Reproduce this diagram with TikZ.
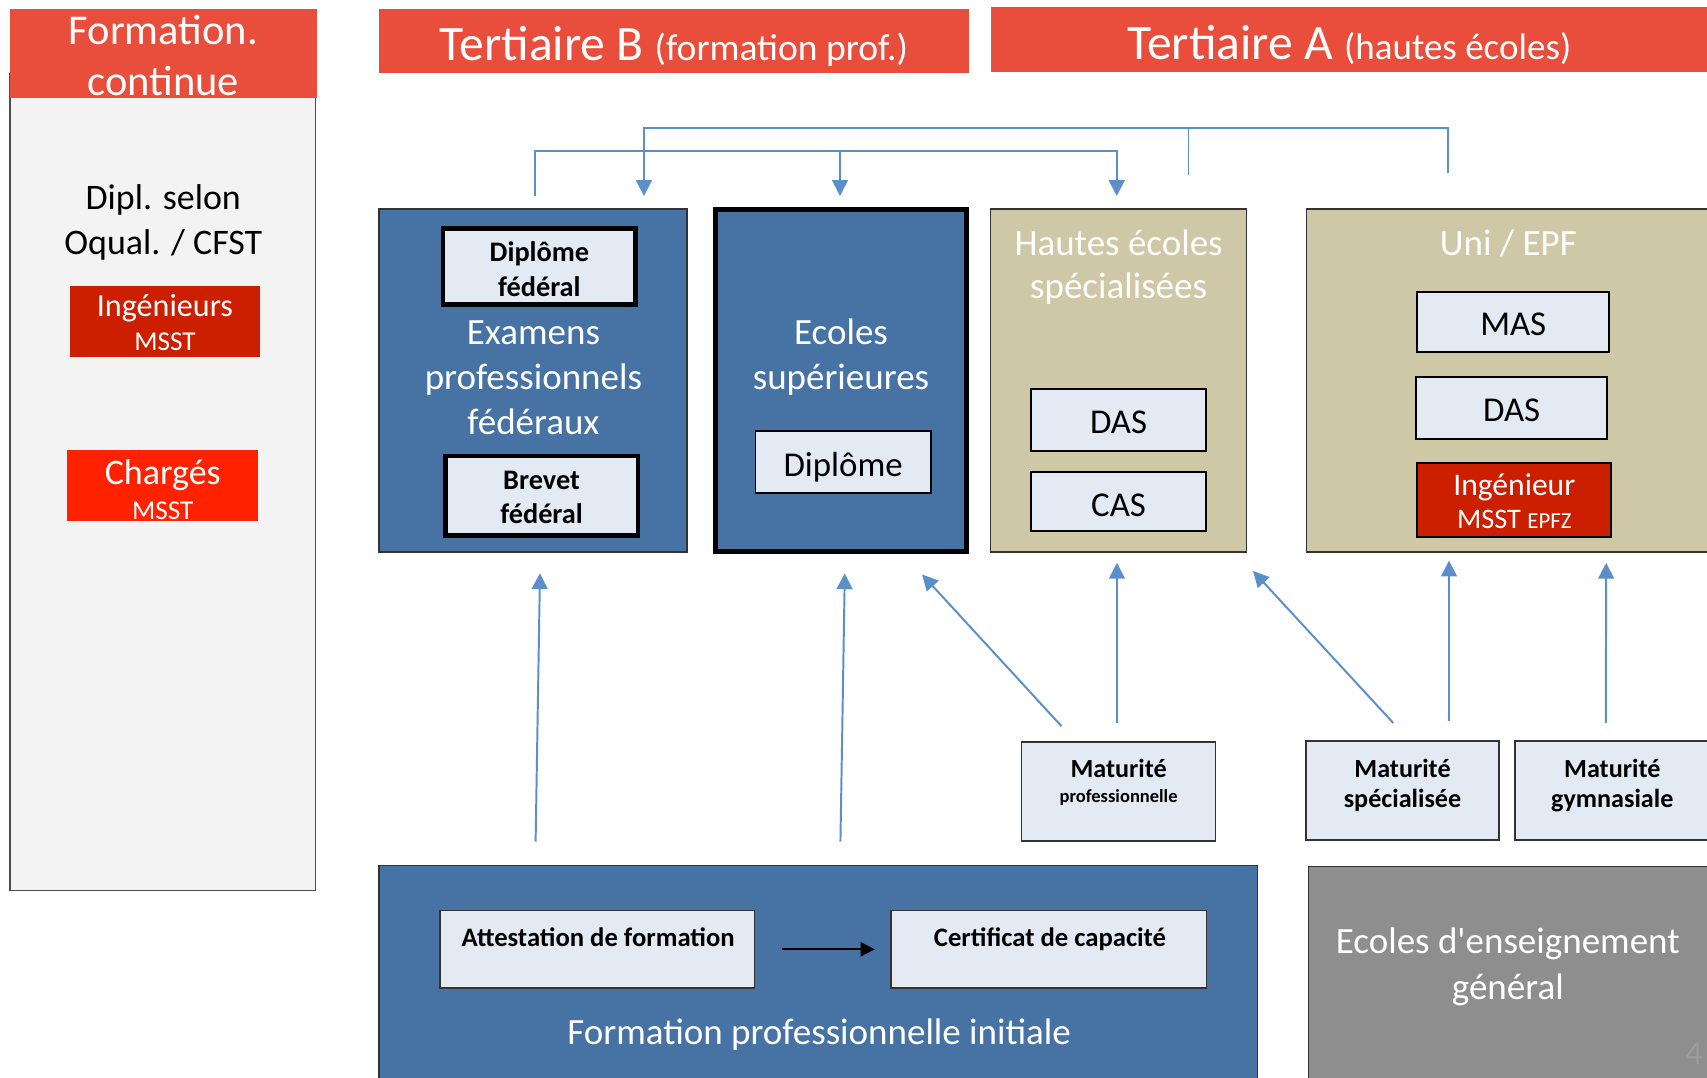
\documentclass[tikz,border=0pt]{standalone}
\usepackage{fontspec}
\setmainfont{Carlito}
\usetikzlibrary{arrows.meta,calc}
\definecolor{hdrred}{HTML}{E94D3B}
\definecolor{boxblue}{HTML}{4673A4}
\definecolor{tanbox}{HTML}{CFC8A6}
\definecolor{lightbox}{HTML}{E3EAF4}
\definecolor{greybox}{HTML}{8E8E8E}
\definecolor{darkred}{HTML}{CC1F00}
\definecolor{brightred}{HTML}{FF2200}
\definecolor{panelgrey}{HTML}{F3F3F3}
\definecolor{arrowblue}{HTML}{5B8FC9}
\definecolor{edgegrey}{HTML}{333333}
\definecolor{pagenum}{HTML}{9C9C9C}
\newcommand{\fsz}[1]{\fontsize{#1}{#1}\selectfont}
\newcommand{\rbox}[6]{\node[#2, anchor=north west, minimum width={#5-#3}, minimum height={#6-#4}] (#1) at (#3,#4) {};}
\begin{document}
\begin{tikzpicture}[x=1pt,y=-1pt,
  plainbox/.style={inner sep=0pt, outer sep=0pt},
  frame/.style={plainbox, draw=edgegrey, line width=1.3pt},
  darkframe/.style={plainbox, draw=black, line width=1.8pt},
  thickframe/.style={plainbox, draw=black, line width=4.4pt},
  hdrbox/.style={plainbox, fill=hdrred},
  txt/.style={inner sep=0pt, outer sep=0pt, anchor=base},
  wtxt/.style={txt, text=white},
  blueline/.style={draw=arrowblue, line width=1.8pt},
  bluearrow/.style={blueline, -{Triangle[length=14.5pt,width=14.5pt]}},
]
\useasboundingbox (0,0) rectangle (1568,990);
\clip (0,0) rectangle (1568,990);
\fill[white] (0,0) rectangle (1568,990);

% ---------- left panel : formation continue ----------
\rbox{panel}{frame, draw=black!70, fill=panelgrey}{9}{68}{290}{818}
\rbox{fchdr}{hdrbox}{9.5}{8}{291}{90}
\node[wtxt, font=\fsz{39}] (fc1) at (150,41) {Formation.};
\node[wtxt, font=\fsz{39}] (fc2) at (150,88) {continue};
\node[txt, font=\fsz{33}] (dip1) at (150,192) {Dipl. selon};
\node[txt, font=\fsz{33}] (dip2) at (150,234) {Oqual. / CFST};
\rbox{ing}{plainbox, fill=darkred}{64}{263}{239}{328}
\node[wtxt, font=\fsz{29.5}] (ing1) at (151.5,291) {Ingénieurs};
\node[wtxt, font=\fsz{25}] (ing2) at (151.5,322) {MSST};
\rbox{chg}{plainbox, fill=brightred}{62}{413}{237}{479}
\node[wtxt, font=\fsz{33}] (chg1) at (149.5,445) {Chargés};
\node[wtxt, font=\fsz{25}] (chg2) at (149.5,477) {MSST};

% ---------- headers ----------
\rbox{tbhdr}{hdrbox}{348}{8}{890}{67}
\node[wtxt] (tbtxt) at (619,56) {\fsz{45.5}Tertiaire B \fsz{34.5}(formation prof.)};
\rbox{tahdr}{hdrbox}{910}{6}{1575}{66}
\node[wtxt] (tatxt) at (1239.5,55) {\fsz{45.5}Tertiaire A \fsz{34}(hautes écoles)};

% ---------- tertiary B ----------
\rbox{ex}{frame, fill=boxblue}{348}{192}{631}{507}
\rbox{dipf}{thickframe, line width=4.3pt, fill=lightbox}{407}{210}{584}{280}
\node[txt, font=\bfseries\fsz{26}] (dipf1) at (495.5,240.5) {Diplôme};
\node[txt, font=\bfseries\fsz{26}] (dipf2) at (495.5,272) {fédéral};
\node[wtxt, font=\fsz{34}] (ex1) at (490,316) {Examens};
\node[wtxt, font=\fsz{34}] (ex2) at (490,358) {professionnels};
\node[wtxt, font=\fsz{34}] (ex3) at (490,399.5) {fédéraux};
\rbox{brev}{thickframe, line width=4.3pt, fill=lightbox}{409}{419}{586}{492}
\node[txt, font=\bfseries\fsz{26}] (brev1) at (497.5,450) {Brevet};
\node[txt, font=\bfseries\fsz{26}] (brev2) at (497.5,481) {fédéral};

\rbox{es}{thickframe, line width=4.6pt, fill=boxblue}{657.3}{192.3}{887.7}{506.7}
\node[wtxt, font=\fsz{34}] (es1) at (772.5,316) {Ecoles};
\node[wtxt, font=\fsz{34}] (es2) at (772.5,358) {supérieures};
\rbox{esdip}{darkframe, line width=1.5pt, fill=lightbox}{694}{396}{855}{453}
\node[txt, font=\fsz{32}] (esdip1) at (774.5,438) {Diplôme};

% ---------- tertiary A ----------
\rbox{hes}{frame, fill=tanbox}{910}{192}{1145}{507}
\node[wtxt, font=\fsz{34}] (hes1) at (1027.5,235) {Hautes écoles};
\node[wtxt, font=\fsz{34}] (hes2) at (1027.5,274) {spécialisées};
\rbox{hdas}{darkframe, fill=lightbox}{947}{357}{1108}{414}
\node[txt, font=\fsz{32}] (hdas1) at (1027.5,398) {DAS};
\rbox{hcas}{darkframe, fill=lightbox}{947}{434}{1108}{488}
\node[txt, font=\fsz{32}] (hcas1) at (1027.5,474) {CAS};

\rbox{uni}{frame, fill=tanbox}{1200}{192}{1575}{507}
\node[wtxt, font=\fsz{34}] (uni1) at (1385.5,235) {Uni / EPF};
\rbox{umas}{darkframe, fill=lightbox}{1302}{268}{1478}{323}
\node[txt, font=\fsz{32}] (umas1) at (1390,308) {MAS};
\rbox{udas}{darkframe, fill=lightbox}{1301}{346}{1476}{403}
\node[txt, font=\fsz{32}] (udas1) at (1388.5,387) {DAS};
\rbox{uing}{darkframe, fill=darkred}{1302}{425}{1480}{493}
\node[wtxt, font=\fsz{29}] (uing1) at (1391,455.5) {Ingénieur};
\node[wtxt] (uing2) at (1391,485) {\fsz{26}MSST \fsz{21}EPFZ};

% ---------- maturités ----------
\rbox{mp}{frame, fill=lightbox}{938.5}{681.5}{1116.5}{772.5}
\node[txt, font=\bfseries\fsz{24}] (mp1) at (1027.5,714.6) {Maturité};
\node[txt, font=\bfseries\fsz{17}] (mp2) at (1027.5,736.7) {professionnelle};
\rbox{ms}{frame, fill=lightbox}{1199.6}{680.6}{1377}{771.6}
\node[txt, font=\bfseries\fsz{24}] (ms1) at (1288.3,714.6) {Maturité};
\node[txt, font=\bfseries\fsz{24}] (ms2) at (1288.3,742) {spécialisée};
\rbox{mg}{frame, fill=lightbox}{1391.6}{680.6}{1575}{771.6}
\node[txt, font=\bfseries\fsz{24}] (mg1) at (1481,714.6) {Maturité};
\node[txt, font=\bfseries\fsz{24}] (mg2) at (1481,742) {gymnasiale};

% ---------- bottom ----------
\rbox{fpi}{frame, fill=boxblue}{348}{795}{1155}{1000}
\rbox{att}{frame, fill=lightbox}{404}{836.5}{693}{907.5}
\node[txt, font=\bfseries\fsz{24.5}] (att1) at (549.5,869.6) {Attestation de formation};
\rbox{cert}{frame, fill=lightbox}{818.5}{836.5}{1108}{907.5}
\node[txt, font=\bfseries\fsz{24.5}] (cert1) at (964.5,869.6) {Certificat de capacité};
\node[wtxt, font=\fsz{34}] (fpi1) at (752.5,959) {Formation professionnelle initiale};
\draw[line width=1.8pt, -{Triangle[length=13pt,width=13pt]}, shorten <=25pt, shorten >=15pt] (att.east) -- (cert.west);

\rbox{geg}{frame, fill=greybox}{1202}{796}{1575}{1000}
\node[wtxt, font=\fsz{34}] (geg1) at (1385,876) {Ecoles d\textquotesingle enseignement};
\node[wtxt, font=\fsz{34}] (geg2) at (1385,918) {général};
\node[txt, text=pagenum, font=\fsz{31}] (pnum) at (1556,978) {4};

% ---------- upward arrows ----------
\draw[bluearrow] ($(fpi.north west)+(144,-22)$) -- ($(ex.south west)+(148,19.5)$);
\draw[bluearrow] ($(fpi.north west)+(424,-22)$) -- ($(es.south west)+(118.7,20)$);
\draw[bluearrow] ($(mp.north)+(-52.5,-14.5)$) -- ($(es.south east)+(-40.7,21)$);
\draw[bluearrow] ($(mp.north)+(-1.5,-17)$) -- ($(hes.south)+(-1.5,10)$);
\draw[bluearrow] ($(ms.north)+(-8.5,-16.5)$) -- ($(hes.south east)+(6,17.5)$);
\draw[bluearrow] ($(ms.north)+(42.7,-18.6)$) -- ($(uni.south west)+(131,8)$);
\draw[bluearrow] ($(mg.north west)+(83.4,-16.6)$) -- ($(uni.south west)+(275.4,10)$);

% ---------- top brackets ----------
\draw[bluearrow] ($(uni.north west)+(130,-33)$) -- ++(0,-41) -| ($(ex.north west)+(243.5,-12)$);
\draw[blueline] ($(hes.north east)+(-53.3,-31.3)$) -- ++(0,-42.7);
\draw[bluearrow] ($(ex.north west)+(143.6,-12)$) -- ++(0,-41) -| ($(hes.north)+(-1.7,-12)$);
\draw[bluearrow] ($(es.north)+(-0.9,-53.3)$) -- ($(es.north)+(-0.9,-12.3)$);
\end{tikzpicture}
\end{document}
